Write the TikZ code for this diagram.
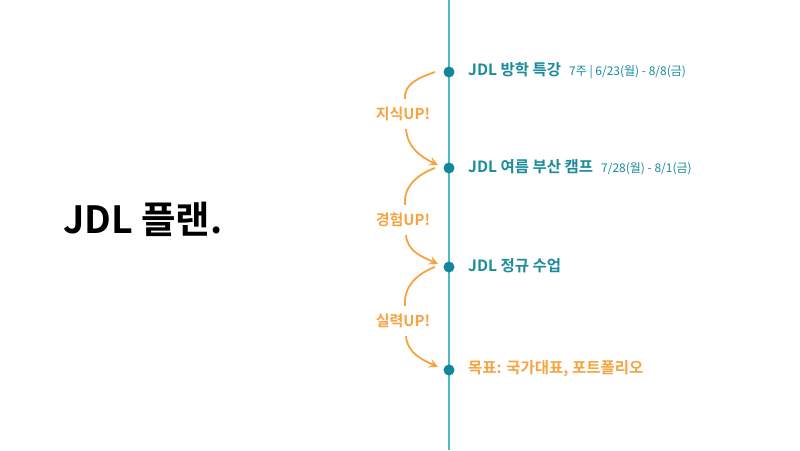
\documentclass[tikz,border=0pt]{standalone}
\usepackage{fontspec}
\setmainfont{Noto Sans CJK KR}[BoldFont={Noto Sans CJK KR Bold}]
\usetikzlibrary{arrows.meta}
\definecolor{tealtxt}{HTML}{1A8C9B}
\definecolor{tealline}{HTML}{4FB9C5}
\definecolor{tealdot}{HTML}{138799}
\definecolor{orng}{HTML}{F6A440}
\newcommand\subfnt{\fontsize{12}{14}\selectfont\mdseries}
\tikzset{
  dotnode/.style={circle,fill=tealdot,inner sep=0pt,minimum size=11pt},
  steplabel/.style={anchor=west,inner sep=0pt,text=tealtxt,font=\fontsize{15.5}{18}\selectfont\bfseries},
  uplabel/.style={inner sep=0pt,text=orng,font=\fontsize{15}{17}\selectfont\bfseries},
  arc/.style={draw=orng,line width=1.8pt},
  arcarrow/.style={draw=orng,line width=1.8pt,-{Stealth[length=9pt,width=9pt,inset=3.5pt]}},
}
\begin{document}
\begin{tikzpicture}[x=1pt,y=-1pt]
\useasboundingbox (0,0) rectangle (800,450);
\fill[white] (0,0) rectangle (800,450);
\coordinate (ltop) at (449,0);
\coordinate (lbot) at (449,450);
\draw[tealline,line width=1.4pt] (ltop) -- (lbot);
\node[anchor=west,inner sep=0pt,font=\fontsize{37.5}{40}\selectfont\bfseries] (title) at (63,219) {JDL 플랜.};
\node[dotnode] (d1) at (449,72) {};
\node[dotnode] (d2) at (449,168) {};
\node[dotnode] (d3) at (449,267) {};
\node[dotnode] (d4) at (449,370) {};
\node[steplabel] (t1) at (468,71) {JDL 방학 특강\hspace{8pt}{\subfnt 7주 | 6/23(월) - 8/8(금)}};
\node[steplabel] (t2) at (468,167) {JDL 여름 부산 캠프\hspace{8pt}{\subfnt 7/28(월) - 8/1(금)}};
\node[steplabel] (t3) at (468,266) {JDL 정규 수업};
\node[steplabel,text=orng] (t4) at (468,369) {목표: 국가대표, 포트폴리오};
\node[uplabel] (u1) at (403,114) {지식UP!};
\node[uplabel] (u2) at (403,220) {경험UP!};
\node[uplabel] (u3) at (403,321) {실력UP!};
\foreach \a/\b/\u in {d1/d2/u1,d2/d3/u2,d3/d4/u3}{
  \draw[arc] ([xshift=-14pt,yshift=0pt]\a.center) to[out=200,in=95] ([xshift=2pt,yshift=8pt]\u.north);
  \draw[arcarrow] ([xshift=3pt,yshift=-8pt]\u.south) to[out=-85,in=155] ([xshift=-11pt,yshift=3pt]\b.center);
}
\end{tikzpicture}
\end{document}
